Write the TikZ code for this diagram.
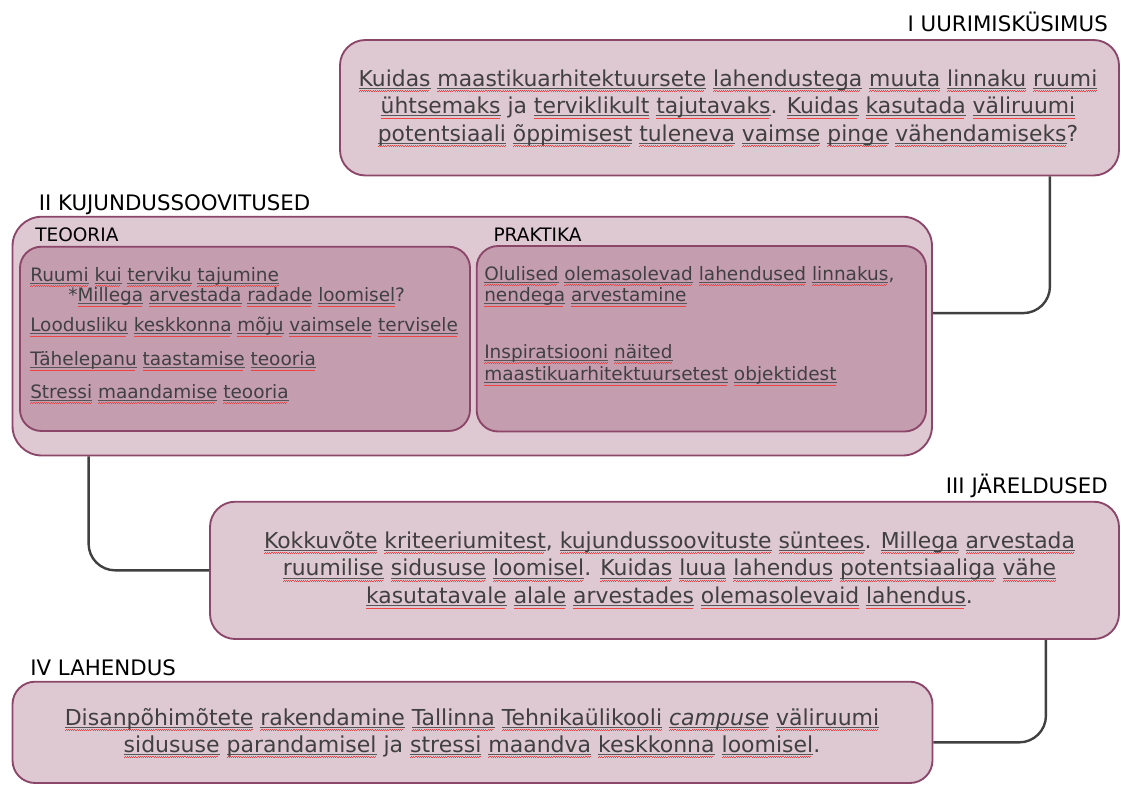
\documentclass[tikz,border=0pt]{standalone}
\usepackage{fontspec}
\setmainfont{DejaVu Sans}
\definecolor{boxfill}{HTML}{DEC8D1}
\definecolor{innerfill}{HTML}{C49DAF}
\definecolor{boxline}{HTML}{8C4669}
\definecolor{txt}{HTML}{404040}
\definecolor{ulc}{HTML}{555555}
\definecolor{connc}{HTML}{404040}
\definecolor{squig}{HTML}{EE4444}
% word with underline and spell-check squiggle
\newcommand\W[1]{\setbox0\hbox{#1}\leavevmode
  \rlap{\color{ulc}\rule[-1.6pt]{\wd0}{0.4pt}}%
  \rlap{\color{squig}\leaders\hbox to 1.6pt{\rule[-3.8pt]{0.8pt}{0.35pt}\rule[-3.2pt]{0.8pt}{0.35pt}}\hskip\wd0\relax}%
  \box0\relax}
\tikzset{
  box/.style={draw=boxline, line width=1.4pt, fill=boxfill, rounded corners=19pt, inner sep=0pt},
  inbox/.style={draw=boxline, line width=1.4pt, fill=innerfill, rounded corners=16pt, inner sep=0pt},
  head/.style={inner sep=0pt, text=black, font=\fontsize{16}{19}\selectfont},
  sub/.style={inner sep=0pt, text=black, anchor=base west, font=\fontsize{13.9}{16}\selectfont},
  big/.style={inner sep=0pt, text=txt, align=center, font=\fontsize{16.4}{20.8}\selectfont},
  item/.style={inner sep=0pt, text=txt, anchor=base west, font=\fontsize{13.85}{16}\selectfont},
  conn/.style={draw=connc, line width=1.8pt, rounded corners=20pt},
}
\begin{document}
\begin{tikzpicture}[x=0.75pt,y=-0.75pt]
\useasboundingbox (0,0) rectangle (1121,785);

% I
\node[head, anchor=base east] (h1) at (1108,31.7) {I UURIMISKÜSIMUS};
\node[box, minimum width=584.25pt, minimum height=101.6pt] (q1) at (729.5,107.75) {};
\node[big] (q1t) at (728,108) {\W{Kuidas} \W{maastikuarhitektuursete} \W{lahendustega} \W{muuta} \W{linnaku} \W{ruumi}\\
\W{ühtsemaks} ja \W{terviklikult} \W{tajutavaks}. \W{Kuidas} \W{kasutada} \W{väliruumi}\\
\W{potentsiaali} \W{õppimisest} \W{tuleneva} \W{vaimse} \W{pinge} \W{vähendamiseks}?};

% II
\node[head, anchor=base west] (h2) at (38.5,210) {II KUJUNDUSSOOVITUSED};
\node[box, rounded corners=22pt, minimum width=689.6pt, minimum height=179.1pt] (q2) at (472.25,336.1) {};
\node[sub] (th) at (35,241.7) {TEOORIA};
\node[sub] (ph) at (493.3,241.7) {PRAKTIKA};
\node[inbox, minimum width=337.5pt, minimum height=138.2pt] (t) at (245,338.85) {};
\node[inbox, minimum width=337pt, minimum height=139.1pt] (p) at (701.35,338.75) {};

\node[item] (t1) at (30,281) {\W{Ruumi} \W{kui} \W{terviku} \W{tajumine}};
\node[item] (t2) at (68,301.7) {*\W{Millega} \W{arvestada} \W{radade} \W{loomisel}?};
\node[item] (t3) at (30,331.7) {\W{Loodusliku} \W{keskkonna} \W{mõju} \W{vaimsele} \W{tervisele}};
\node[item] (t4) at (30,365.7) {\W{Tähelepanu} \W{taastamise} \W{teooria}};
\node[item] (t5) at (30,398) {\W{Stressi} \W{maandamise} \W{teooria}};

\node[item] (p1) at (484,280) {\W{Olulised} \W{olemasolevad} \W{lahendused} \W{linnakus},};
\node[item] (p2) at (484,301.7) {\W{nendega} \W{arvestamine}};
\node[item] (p3) at (484,358.3) {\W{Inspiratsiooni} \W{näited}};
\node[item] (p4) at (484,380.7) {\W{maastikuarhitektuursetest} \W{objektidest}};

% III
\node[head, anchor=base east] (h3) at (1108,493) {III JÄRELDUSED};
\node[box, minimum width=681.75pt, minimum height=103pt] (q3) at (664.5,570.35) {};
\node[big] (q3t) at (669.5,570) {\W{Kokkuvõte} \W{kriteeriumitest}, \W{kujundussoovituste} \W{süntees}. \W{Millega} \W{arvestada}\\
\W{ruumilise} \W{sidususe} \W{loomisel}. \W{Kuidas} \W{luua} \W{lahendus} \W{potentsiaaliga} \W{vähe}\\
\W{kasutatavale} \W{alale} \W{arvestades} \W{olemasolevaid} \W{lahendus}.};

% IV
\node[head, anchor=base west] (h4) at (30,675) {IV LAHENDUS};
\node[box, rounded corners=17pt, minimum width=690pt, minimum height=76pt] (q4) at (472.5,732.35) {};
\node[big, font=\fontsize{16.5}{20}\selectfont] (q4t) at (472,733) {\W{Disanpõhimõtete} \W{rakendamine} \W{Tallinna} \W{Tehnikaülikooli} \W{\textit{campuse}} \W{väliruumi}\\
\W{sidususe} \W{parandamisel} ja \W{stressi} \W{maandva} \W{keskkonna} \W{loomisel}.};

% connectors
\draw[conn] ([xshift=-52.5pt]q1.south east) |- ([yshift=17.25pt]q2.east);
\draw[conn] ([xshift=57.75pt]q2.south west) |- (q3.west);
\draw[conn] ([xshift=-55.5pt]q3.south east) |- ([yshift=-7.5pt]q4.east);
\end{tikzpicture}
\end{document}
